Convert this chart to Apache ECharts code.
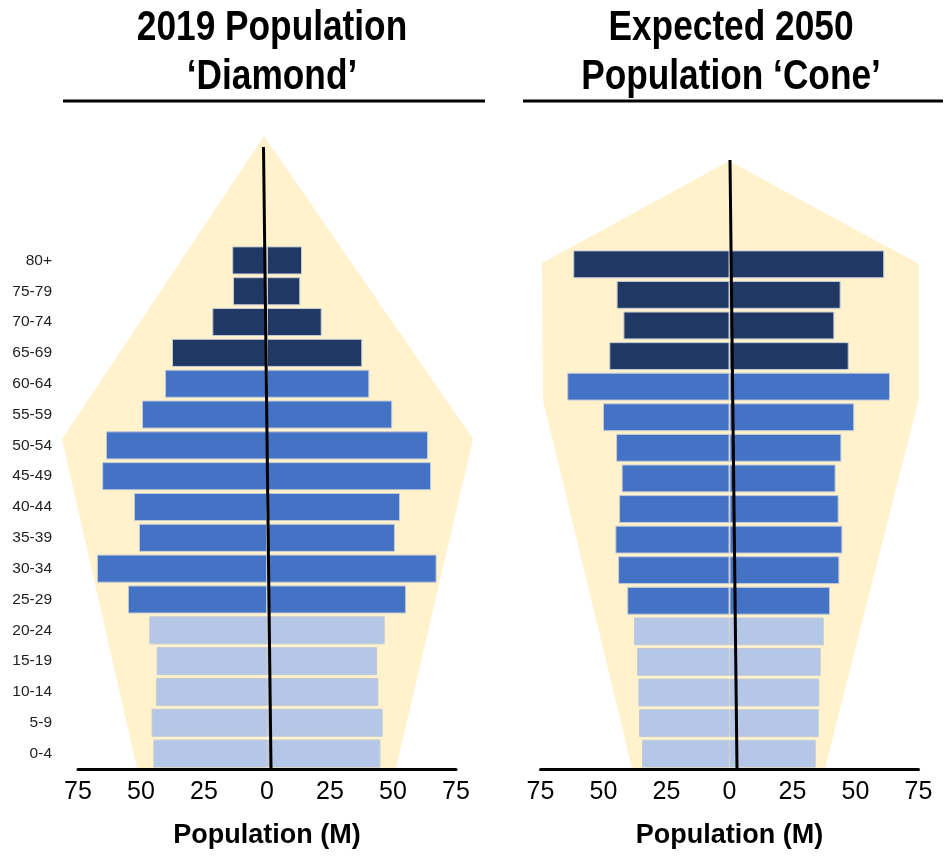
<!DOCTYPE html>
<html>
<head>
<meta charset="utf-8">
<script src="https://cdn.jsdelivr.net/npm/echarts@6/dist/echarts.min.js"></script>
<style>
  html, body { margin: 0; padding: 0; background: #ffffff; }
  #chart { width: 948px; height: 857px; }
</style>
</head>
<body>
<div id="chart"></div>
<script>
// ---- Data ----
const ageGroups = ['0-4','5-9','10-14','15-19','20-24','25-29','30-34','35-39','40-44','45-49','50-54','55-59','60-64','65-69','70-74','75-79','80+'];
// 0 = young (0-24), 1 = working age (25-64), 2 = older (65+)
const cohortGroup = [0,0,0,0,0,1,1,1,1,1,1,1,1,2,2,2,2];

const pop2019Left  = [45.1, 45.8, 44.0, 43.8, 46.7, 55.2, 67.5, 50.8, 52.8, 65.4, 63.9, 49.6, 40.5, 37.7, 21.7, 13.5, 13.8];
const pop2019Right = [45.0, 45.9, 44.2, 43.7, 46.7, 55.2, 67.3, 50.8, 52.8, 65.1, 63.9, 49.7, 40.6, 37.8, 21.7, 13.2, 13.9];

const pop2050Left  = [34.7, 35.9, 36.2, 36.7, 37.9, 40.6, 44.2, 45.3, 43.8, 42.8, 45.0, 50.2, 64.4, 47.7, 42.1, 44.8, 62.0];
const pop2050Right = [34.2, 35.4, 35.6, 36.2, 37.4, 39.9, 43.6, 44.8, 43.3, 42.1, 44.4, 49.5, 63.7, 47.3, 41.6, 44.1, 61.4];

const xTicks = { min: -75, max: 75, interval: 25 };

const titleLeft  = ['2019 Population', '\u2018Diamond\u2019'];
const titleRight = ['Expected 2050', 'Population \u2018Cone\u2019'];
const axisTitle = 'Population (M)';

// ---- Styles ----
const groupColors = ['#B4C7E7', '#4472C4', '#203864'];
const SANS = "'Liberation Sans', Arial, sans-serif";
const PALE = '#FFF2CC';
const NARROW_SCALE = 0.82;

function barItemStyle() {
  return {
    color: (p) => groupColors[cohortGroup[p.dataIndex]],
    borderColor: '#c3cad6',
    borderWidth: 1
  };
}

function xAxisFor(gridIndex) {
  return {
    type: 'value', gridIndex: gridIndex,
    min: xTicks.min, max: xTicks.max, interval: xTicks.interval,
    axisLine: { show: true, onZero: false, lineStyle: { color: '#000', width: 3 } },
    axisTick: { show: false },
    splitLine: { show: false },
    axisLabel: {
      formatter: (v) => String(Math.abs(v)),
      fontFamily: SANS, fontSize: 25, color: '#000', margin: 11
    },
    name: axisTitle,
    nameLocation: 'middle',
    nameGap: 53,
    nameTextStyle: { fontFamily: SANS, fontWeight: 'bold', fontSize: 27, color: '#000' }
  };
}

function yAxisFor(gridIndex, showLabels) {
  return {
    type: 'category', gridIndex: gridIndex, data: ageGroups,
    axisLine: { show: false }, axisTick: { show: false }, splitLine: { show: false },
    axisLabel: { show: showLabels, fontFamily: SANS, fontSize: 15.5, color: '#222', margin: 26 }
  };
}

function titleText(str, cx, cy) {
  return {
    type: 'text', z: 20, silent: true,
    x: cx, y: cy, scaleX: NARROW_SCALE, scaleY: 1, originX: 0, originY: 0,
    style: {
      text: str, fill: '#000',
      font: "bold 43px 'Liberation Sans', Arial, sans-serif",
      textAlign: 'center', textVerticalAlign: 'middle'
    }
  };
}

const chart = echarts.init(document.getElementById('chart'), null, { renderer: 'canvas' });

const option = {
  animation: false,
  backgroundColor: '#ffffff',
  grid: [
    { left: 78, width: 378, top: 245, height: 524, containLabel: false },
    { left: 540.5, width: 378, top: 249, height: 520, containLabel: false }
  ],
  xAxis: [xAxisFor(0), xAxisFor(1)],
  yAxis: [yAxisFor(0, true), yAxisFor(1, false)],
  series: [
    { type: 'bar', xAxisIndex: 0, yAxisIndex: 0, stack: 's2019', barCategoryGap: '9%',
      data: pop2019Left.map(v => -v), itemStyle: barItemStyle(), z: 5 },
    { type: 'bar', xAxisIndex: 0, yAxisIndex: 0, stack: 's2019', barCategoryGap: '9%',
      data: pop2019Right, itemStyle: barItemStyle(), z: 5 },
    { type: 'bar', xAxisIndex: 1, yAxisIndex: 1, stack: 's2050', barCategoryGap: '9%',
      data: pop2050Left.map(v => -v), itemStyle: barItemStyle(), z: 5 },
    { type: 'bar', xAxisIndex: 1, yAxisIndex: 1, stack: 's2050', barCategoryGap: '9%',
      data: pop2050Right, itemStyle: barItemStyle(), z: 5 }
  ],
  graphic: [
    // decorative background shapes
    { type: 'polygon', z: 0, silent: true,
      shape: { points: [[264,136],[473,439],[396,768],[137,768],[62,439]] },
      style: { fill: PALE } },
    { type: 'polygon', z: 0, silent: true,
      shape: { points: [[729,161],[919,264],[919,398],[825,768],[632,768],[543,400],[542,263]] },
      style: { fill: PALE } },
    // titles
    titleText(titleLeft[0], 272, 28),
    titleText(titleLeft[1], 272, 77),
    titleText(titleRight[0], 731, 28),
    titleText(titleRight[1], 731, 77),
    // title underlines
    { type: 'line', z: 10, silent: true, shape: { x1: 63, y1: 101, x2: 485, y2: 101 }, style: { stroke: '#000', lineWidth: 3 } },
    { type: 'line', z: 10, silent: true, shape: { x1: 523, y1: 101, x2: 943, y2: 101 }, style: { stroke: '#000', lineWidth: 3 } },
    // centre lines
    { type: 'line', z: 100, silent: true, shape: { x1: 263.5, y1: 147, x2: 271, y2: 769 }, style: { stroke: '#000', lineWidth: 3 } },
    { type: 'line', z: 100, silent: true, shape: { x1: 730, y1: 160, x2: 737, y2: 769 }, style: { stroke: '#000', lineWidth: 3 } }
  ]
};

chart.setOption(option);
</script>
</body>
</html>
